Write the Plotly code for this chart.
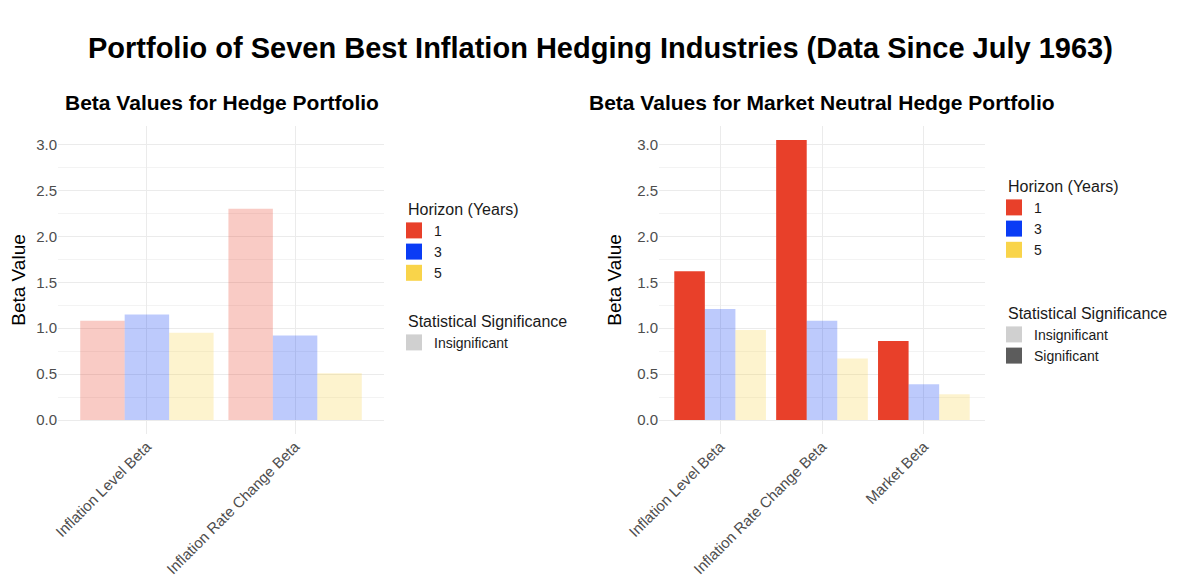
import plotly.graph_objects as go
from plotly.subplots import make_subplots

# --------------------------------------
# Data
# --------------------------------------

horizons = ["1", "3", "5"]

left_cats = ["Inflation Level Beta", "Inflation Rate Change Beta"]
left_h1 = [1.08, 2.30]
left_h3 = [1.15, 0.92]
left_h5 = [0.95, 0.51]
left_sig_h1 = [False, False]
left_sig_h3 = [False, False]
left_sig_h5 = [False, False]

right_cats = ["Inflation Level Beta", "Inflation Rate Change Beta", "Market Beta"]
right_h1 = [1.62, 3.05, 0.86]
right_h3 = [1.21, 1.08, 0.39]
right_h5 = [0.98, 0.67, 0.28]
right_sig_h1 = [True, True, True]
right_sig_h3 = [False, False, False]
right_sig_h5 = [False, False, False]

colors = {"1": "#E8402A", "3": "#0A3CF5", "5": "#F9D44A"}
FONT = "Liberation Sans, Arial, Helvetica, sans-serif"
W, H = 1200, 586
OFF = 8  # page body margin shifts the figure by 8px

def py(px):
    # page pixel (from top) -> paper fraction
    return 1 - (px - OFF) / H

def px_(x):
    return (x - OFF) / W

fig = make_subplots(rows=1, cols=2)

panels = [
    (1, left_cats, [left_h1, left_h3, left_h5], [left_sig_h1, left_sig_h3, left_sig_h5]),
    (2, right_cats, [right_h1, right_h3, right_h5], [right_sig_h1, right_sig_h3, right_sig_h5]),
]

for col, cats, series, sigs in panels:
    for h, vals, sig in zip(horizons, series, sigs):
        fig.add_trace(go.Bar(
            x=cats, y=vals, name=h,
            marker=dict(color=colors[h], opacity=[1.0 if s else 0.27 for s in sig], line_width=0),
            showlegend=False,
            hovertemplate="%{x}<br>Horizon " + h + ": %{y:.2f}<extra></extra>",
        ), row=1, col=col)

# --------------------------------------
# Legends (empty square-marker traces, so the keys are ggplot-sized squares)
# --------------------------------------

def dummy(name, color, legend, col):
    fig.add_trace(go.Scatter(
        x=[None], y=[None], name=name, mode="markers",
        marker=dict(symbol="square", size=16, color=color, line_width=0),
        legend=legend, showlegend=True, hoverinfo="skip",
    ), row=1, col=col)

for h in horizons:
    dummy(h, colors[h], "legend", 1)
    dummy(h, colors[h], "legend3", 2)
dummy("Insignificant", "#D0D0D0", "legend2", 1)
dummy("Insignificant", "#D0D0D0", "legend4", 2)
dummy("Significant", "#5C5C5C", "legend4", 2)

leg_common = dict(
    xanchor="left", yanchor="top", bgcolor="rgba(0,0,0,0)",
    font=dict(family=FONT, size=14, color="#1a1a1a"),
    itemclick=False, itemdoubleclick=False, tracegroupgap=0,
    indentation=-12, itemsizing="trace",
)

def leg(x_page, top_page, title):
    d = dict(leg_common)
    d.update(x=px_(x_page), y=py(top_page),
             title=dict(text=title, font=dict(family=FONT, size=16, color="#1a1a1a")))
    return d

fig.update_layout(
    legend=leg(406, 194, "Horizon (Years)"),
    legend2=leg(406, 306, "Statistical Significance"),
    legend3=leg(1006, 171, "Horizon (Years)"),
    legend4=leg(1006, 298, "Statistical Significance"),
)

# --------------------------------------
# Axes & layout
# --------------------------------------

yaxis_style = dict(
    range=[-0.1525, 3.2025], tickvals=[0, 0.5, 1.0, 1.5, 2.0, 2.5, 3.0],
    ticktext=["0.0", "0.5", "1.0", "1.5", "2.0", "2.5", "3.0"],
    showgrid=True, gridcolor="#EBEBEB", gridwidth=1, zeroline=False,
    minor=dict(dtick=0.25, tick0=0, showgrid=True, gridcolor="#F3F3F3", gridwidth=1),
    tickfont=dict(family=FONT, size=15, color="#4D4D4D"), ticks="",
    title=dict(text="Beta Value", font=dict(family=FONT, size=19, color="#000000"), standoff=10),
    domain=[py(434), py(126)], showline=False, automargin=False,
)
xaxis_style = dict(
    showgrid=True, gridcolor="#EBEBEB", gridwidth=1, tickangle=-45, ticks="",
    tickfont=dict(family=FONT, size=15, color="#4D4D4D"), showline=False, zeroline=False,
    automargin=False,
)

fig.update_yaxes(**yaxis_style)
fig.update_xaxes(**xaxis_style)
fig.update_xaxes(domain=[px_(58), px_(384)], range=[-0.6, 1.6], row=1, col=1)
fig.update_xaxes(domain=[px_(659), px_(985)], range=[-0.6, 2.6], row=1, col=2)

fig.update_layout(
    width=W, height=H,
    margin=dict(l=0, r=0, t=0, b=0, autoexpand=False),
    barmode="group", bargap=0.1, bargroupgap=0,
    plot_bgcolor="white", paper_bgcolor="white",
    font=dict(family=FONT),
    annotations=[
        dict(text="<b>Portfolio of Seven Best Inflation Hedging Industries (Data Since July 1963)</b>",
             x=px_(600), y=py(48), xref="paper", yref="paper", showarrow=False,
             xanchor="center", yanchor="middle",
             font=dict(family=FONT, size=29, color="#000000")),
        dict(text="<b>Beta Values for Hedge Portfolio</b>",
             x=px_(222), y=py(103), xref="paper", yref="paper", showarrow=False,
             xanchor="center", yanchor="middle",
             font=dict(family=FONT, size=21, color="#000000")),
        dict(text="<b>Beta Values for Market Neutral Hedge Portfolio</b>",
             x=px_(822), y=py(103), xref="paper", yref="paper", showarrow=False,
             xanchor="center", yanchor="middle",
             font=dict(family=FONT, size=21, color="#000000")),
    ],
)

fig.write_html("out.html")
